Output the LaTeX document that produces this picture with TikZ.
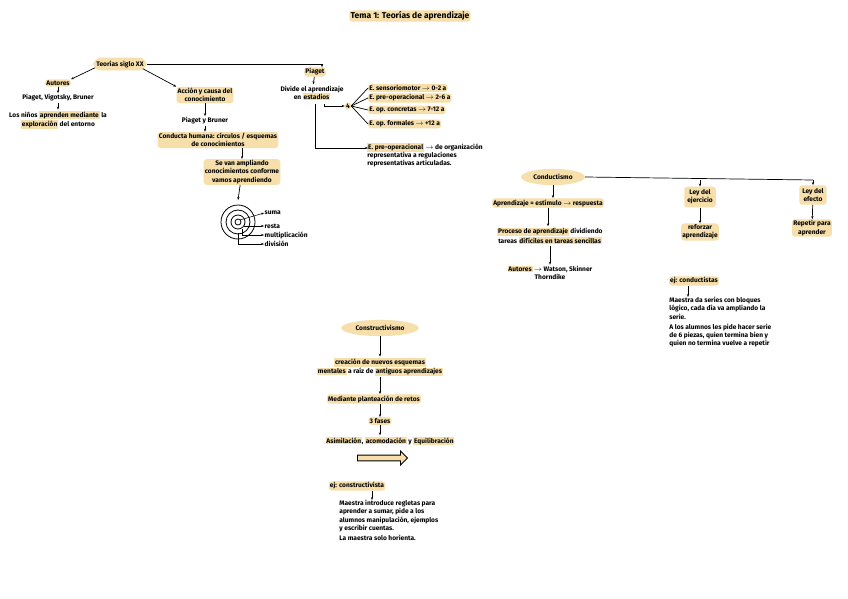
\documentclass[tikz,border=0pt]{standalone}
\usepackage{fontspec}
\setmainfont{Fira Sans}
\usetikzlibrary{arrows.meta,shapes.arrows,shapes.geometric}
\definecolor{hl}{HTML}{F6DFAA}
\setlength{\fboxsep}{0.8pt}
\begin{document}
\begin{tikzpicture}[x=1pt,y=-1pt,
  every node/.style={font=\fontsize{6.6}{8.2}\selectfont\bfseries,inner sep=1.2pt,align=center},
  hl/.style={fill=hl,rounded corners=3pt},
  oval/.style={fill=hl,ellipse,inner sep=1pt},
  ar/.style={-{Stealth[length=3pt]},line width=0.7pt},
  ln/.style={line width=0.7pt}]
\useasboundingbox[fill=white] (0,0) rectangle (848,599);
\node[hl,font=\fontsize{8.5}{10}\selectfont\bfseries] (title) at (410,16) {Tema 1: Teorías de aprendizaje};
% left tree
\node[fill=hl,rounded corners=8pt,inner sep=3pt] (siglo) at (120,64) {Teorías siglo XX};
\node[hl] (aut) at (58,83) {Autores};
\node (pvb) at (58,98) {Piaget, Vigotsky, Bruner};
\node (ninos) at (58,120) {Los niños \colorbox{hl}{aprenden mediante} la\\\colorbox{hl}{exploración} del entorno};
\node[hl] (accion) at (205,95) {Acción y causa del\\conocimiento};
\node (pb) at (205,121) {Piaget y Bruner};
\node[hl] (cond) at (218,140) {Conducta humana: círculos / esquemas\\de conocimientos};
\node[hl] (ampl) at (242,172) {Se van ampliando\\conocimientos conforme\\vamos aprendiendo};
\coordinate (cc) at (238,222);
\foreach \r in {3,7,12,17} \draw[line width=0.8pt] (cc) circle (\r);
\node[anchor=west,inner sep=0.5pt] (suma) at (264,213) {suma};
\node[anchor=west,inner sep=0.5pt] (resta) at (264,226) {resta};
\node[anchor=west,inner sep=0.5pt] (mult) at (264,235) {multiplicación};
\node[anchor=west,inner sep=0.5pt] (div) at (264,244) {división};
\draw[ar,line width=0.5pt] (240,220) -- (suma.west);
\draw[ar,line width=0.5pt] (244,226) -- (resta.west);
\draw[ar,line width=0.5pt] (242,229) |- (mult.west);
\draw[ar,line width=0.5pt] (238,233) |- (div.west);
\draw[ar] (siglo.south west) ++(2,-3) -- (aut.north east);
\draw[ar] (aut) -- (pvb);
\draw[ar] (pvb) -- (ninos);
\draw[ar] (siglo.south east) ++(-4,-2) -- (accion.north west);
\draw[ar] (accion) -- (pb);
\draw[ar] (pb) -- (pb |- cond.north);
\draw[ar] (cond.south -| ampl) -- (ampl);
\draw[ar] (ampl) -- (238,200);
% Piaget
\node[hl] (piaget) at (315,72) {Piaget};
\draw[ar] (siglo.east) -- (322,64) -- (piaget.north -| 322,0);
\node (divide) at (312,93) {Divide el aprendizaje\\en \colorbox{hl}{estadios}};
\draw[ar] (piaget) -- (divide);
\node[hl] (cuatro) at (348,106) {4};
\draw[ar] (324,104) -- (324,106) -- (cuatro.west);
\node[hl,anchor=west] (s1) at (368,88) {E. sensoriomotor $\rightarrow$ 0-2 a};
\node[hl,anchor=west] (s2) at (368,98) {E. pre-operacional $\rightarrow$ 2-6 a};
\node[hl,anchor=west] (s3) at (368,110) {E. op. concretas $\rightarrow$ 7-12 a};
\node[hl,anchor=west] (s4) at (368,124) {E. op. formales $\rightarrow$ +12 a};
\foreach \s in {s1,s2,s3,s4} \draw[ln] (cuatro.east) -- (\s.west);
\node[anchor=north west,align=left] (pre) at (366,142) {\colorbox{hl}{E. pre-operacional} $\rightarrow$ de organización\\representativa a regulaciones\\representativas articuladas.};
\draw[ar] (315,104) -- (315,148) -- (368,148);
% Conductismo
\node[oval,inner sep=3pt] (condu) at (553,177) {Conductismo};
\node[hl] (estim) at (548,203) {Aprendizaje = estímulo $\rightarrow$ respuesta};
\node (proc) at (550,236) {\colorbox{hl}{Proceso de aprendizaje} dividiendo\\tareas \colorbox{hl}{difíciles en tareas sencillas}};
\node (autc) at (550,273) {\colorbox{hl}{Autores} $\rightarrow$ Watson, Skinner\\Thorndike};
\draw[ar] (condu) -- (condu |- estim.north);
\draw[ar] (estim) -- (estim |- proc.north);
\draw[ar] (proc) -- (autc);
\node[hl,inner sep=3pt] (eje) at (700,197) {Ley del\\ejercicio};
\node[hl,inner sep=3pt] (efe) at (813,195) {Ley del\\efecto};
\draw[ln] (condu.east) -- (813,180);
\draw[ar] (700,180) -- (eje.north);
\draw[ar] (813,180) -- (efe.north);
\node[hl] (ref) at (700,232) {reforzar\\aprendizaje};
\node[hl] (rep) at (812,228) {Repetir para\\aprender};
\draw[ar] (eje) -- (ref);
\draw[ar] (efe) -- (rep);
\node[hl] (ejc) at (694,281) {ej: conductistas};
\node[anchor=north west,align=left] (ejct) at (668,296) {Maestra da series con bloques\\lógico, cada día va ampliando la\\serie.\\[2pt]A los alumnos les pide hacer serie\\de 6 piezas, quien termina bien y\\quien no termina vuelve a repetir};
\draw[ar] (ejc.south -| 688,0) -- (688,297);
% Constructivismo
\node[oval,inner sep=3pt] (cons) at (380,328) {Constructivismo};
\node (crea) at (380,367) {\colorbox{hl}{creación de nuevos esquemas}\\\colorbox{hl}{mentales} a raíz de \colorbox{hl}{antiguos aprendizajes}};
\node[hl] (med) at (374,399) {Mediante planteación de retos};
\node[hl] (fases) at (380,421) {3 fases};
\node (asim) at (390,441) {\colorbox{hl}{Asimilación}, \colorbox{hl}{acomodación} y \colorbox{hl}{Equilibración}};
\draw[ar] (cons) -- (crea);
\draw[ar] (crea) -- (crea |- med.north);
\draw[ar] (med.south -| fases) -- (fases);
\draw[ar] (fases) -- (fases |- asim.north);
\node[single arrow,draw,fill=hl,line width=0.8pt,minimum width=14pt,single arrow head extend=2pt,minimum height=50pt,inner sep=1pt] (big) at (381,458) {};
\node[hl] (ejk) at (357,486) {ej: constructivista};
\node[anchor=north west,align=left] (ejkt) at (338,499) {Maestra introduce regletas para\\aprender a sumar, pide a los\\alumnos manipulación, ejemplos\\y escribir cuentas.\\[2pt]La maestra solo horienta.};
\draw[ar] (ejk.south -| 372,0) -- (372,500);
\end{tikzpicture}
\end{document}
